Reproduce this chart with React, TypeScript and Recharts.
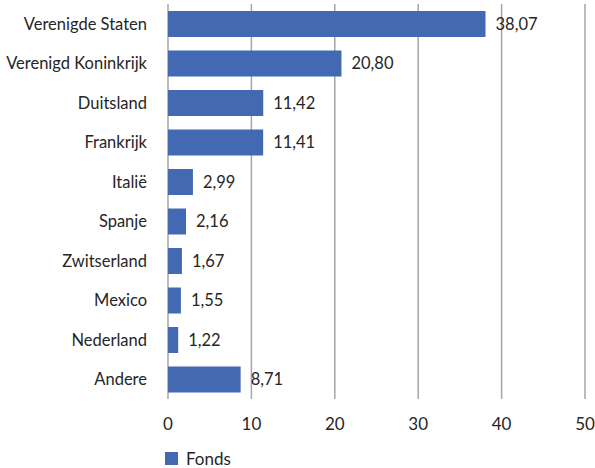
import React from "react";
import {
  BarChart,
  Bar,
  XAxis,
  YAxis,
  CartesianGrid,
  LabelList,
  Legend,
} from "recharts";

const countries = [
  "Verenigde Staten",
  "Verenigd Koninkrijk",
  "Duitsland",
  "Frankrijk",
  "Italië",
  "Spanje",
  "Zwitserland",
  "Mexico",
  "Nederland",
  "Andere",
];
const fondsValues = [38.07, 20.8, 11.42, 11.41, 2.99, 2.16, 1.67, 1.55, 1.22, 8.71];
const xTicks = [0, 10, 20, 30, 40, 50];

const data = countries.map((name, i) => ({ name, fonds: fondsValues[i] }));

const FONT = "Lato, 'Noto Sans', sans-serif";
const BLUE = "#4369b2";
const TEXT = "#262626";

const fmt = (v: any) => Number(v).toFixed(2).replace(".", ",");

const LegendBox = () => (
  <div style={{ display: "flex", alignItems: "center", fontFamily: FONT, fontSize: 17, color: TEXT }}>
    <span style={{ display: "inline-block", width: 13, height: 13, background: BLUE, marginRight: 8 }} />
    Fonds
  </div>
);

const App = () => {
  return (
    <div style={{ position: "absolute", left: 0, top: 0, width: 595, height: 468, background: "#fff" }}>
      <BarChart
        width={595}
        height={468}
        data={data}
        layout="vertical"
        margin={{ top: 4, right: 10, bottom: 19, left: 0 }}
      >
        <CartesianGrid horizontal={false} stroke="#a6a6a6" strokeWidth={1.5} />
        <XAxis
          type="number"
          domain={[0, 50]}
          ticks={xTicks}
          axisLine={false}
          tickLine={false}
          height={30}
          tickMargin={13}
          tick={{ fontFamily: FONT, fontSize: 17, fill: TEXT }}
        />
        <YAxis
          type="category"
          dataKey="name"
          width={168}
          axisLine={false}
          tickLine={false}
          tickMargin={15}
          interval={0}
          tick={{ fontFamily: FONT, fontSize: 16.5, fill: TEXT }}
        />
        <Legend
          verticalAlign="bottom"
          content={() => <LegendBox />}
          wrapperStyle={{ left: 165, top: 448, width: 120, height: 20 }}
        />
        <Bar dataKey="fonds" fill={BLUE} barSize={26} isAnimationActive={false}>
          <LabelList
            dataKey="fonds"
            position="right"
            offset={10}
            formatter={fmt}
            style={{ fontFamily: FONT, fontSize: 16.5, fill: TEXT }}
          />
        </Bar>
      </BarChart>
    </div>
  );
};

export default App;
